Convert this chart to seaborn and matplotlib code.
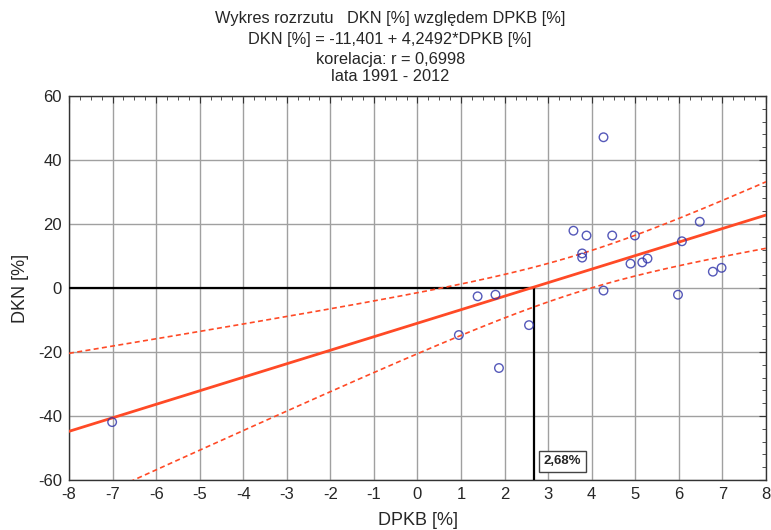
import numpy as np
import matplotlib
matplotlib.use("Agg")
import matplotlib.pyplot as plt
from matplotlib.ticker import MultipleLocator
import seaborn as sns

sns.set_style("white")
plt.rcParams['font.family'] = ['Liberation Sans', 'DejaVu Sans']
plt.rcParams['axes.unicode_minus'] = False

# Data (years 1991-2012)
dpkb = [4.27, 3.58, 3.88, 4.47, 4.99, 3.78, 3.78, 4.89, 5.16, 5.28, 6.07,
        6.48, 6.78, 6.98, 4.27, 5.98, 1.38, 1.79, 0.95, 2.56, 1.87, -7.01]
dkn = [47.1, 17.9, 16.4, 16.4, 16.4, 10.8, 9.5, 7.6, 8.0, 9.2, 14.6,
       20.7, 5.1, 6.3, -0.8, -2.1, -2.6, -2.1, -14.7, -11.6, -25.0, -41.9]
x_zero = 2.68
x_zero_label = "2,68%"
title_lines = ["Wykres rozrzutu   DKN [%] względem DPKB [%]",
               "DKN [%] = -11,401 + 4,2492*DPKB [%]",
               "korelacja: r = 0,6998",
               "lata 1991 - 2012"]

x = np.array(dpkb)
y = np.array(dkn)

fig = plt.figure(figsize=(7.71, 5.30), dpi=100)
ax = fig.add_axes([0.0895, 0.0943, 0.904, 0.7246])
ax.set_xlim(-8, 8)
ax.set_ylim(-60, 60)

line_col = "#ff4a26"
pt_col = "#2b2fa8"

sns.regplot(x=x, y=y, ax=ax, ci=None, truncate=False,
            scatter_kws=dict(s=38, facecolors="none", edgecolors=pt_col, linewidths=1.0, zorder=5),
            line_kws=dict(color=line_col, lw=2.0, zorder=4))

# 95% confidence bands of the regression
n = len(x)
b1, b0 = np.polyfit(x, y, 1)
res = y - (b0 + b1 * x)
s = np.sqrt(np.sum(res ** 2) / (n - 2))
sxx = np.sum((x - x.mean()) ** 2)
t = 2.086
xs = np.linspace(-8, 8, 200)
hw = t * s * np.sqrt(1.0 / n + (xs - x.mean()) ** 2 / sxx)
yfit = b0 + b1 * xs
ax.plot(xs, yfit + hw, ls=(0, (3, 2)), color=line_col, lw=1.2, zorder=4)
ax.plot(xs, yfit - hw, ls=(0, (3, 2)), color=line_col, lw=1.2, zorder=4)

# crosshair at zero DKN
ax.plot([-8, x_zero], [0, 0], color="black", lw=1.6, zorder=3)
ax.plot([x_zero, x_zero], [0, -60], color="black", lw=1.6, zorder=3)
ax.text(x_zero + 0.22, -54.2, x_zero_label, fontsize=9.5, fontweight="bold",
        ha="left", va="center", zorder=6,
        bbox=dict(boxstyle="square,pad=0.35", fc="white", ec="#444444", lw=1))

ax.xaxis.set_major_locator(MultipleLocator(1))
ax.xaxis.set_minor_locator(MultipleLocator(0.25))
ax.yaxis.set_major_locator(MultipleLocator(20))
ax.yaxis.set_minor_locator(MultipleLocator(4))
ax.grid(True, which="major", color="#a0a0a0", lw=1.0)
ax.set_axisbelow(True)
ax.tick_params(which="both", direction="in", top=True, right=True,
               labelsize=12, color="#333333")
ax.tick_params(which="major", length=5, pad=5)
ax.tick_params(which="minor", length=3)
for sp in ax.spines.values():
    sp.set_color("#333333")
    sp.set_linewidth(1.0)

ax.set_xlabel("DPKB [%]", fontsize=13)
ax.set_ylabel("DKN [%]", fontsize=13)
ax.xaxis.set_label_coords(0.5007, -0.083)
ax.yaxis.set_label_coords(-0.058, 0.5)

ys = [0.966, 0.925, 0.887, 0.855]
for tl, yy in zip(title_lines, ys):
    fig.text(0.506, yy, tl, ha="center", va="center", fontsize=11.8)

fig.savefig("out.png", dpi=100)
